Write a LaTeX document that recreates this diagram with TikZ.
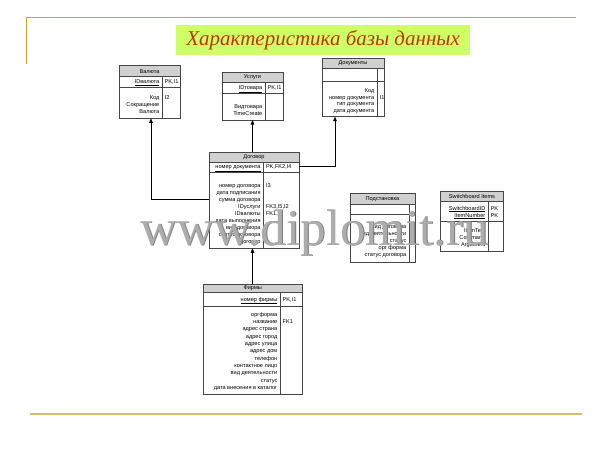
\documentclass[tikz,border=0pt]{standalone}
\usepackage{fontspec}
\setmainfont{Liberation Serif}
\setsansfont{Liberation Sans}
\usetikzlibrary{arrows.meta}
\definecolor{gold}{RGB}{212,165,42}
\definecolor{goldb}{RGB}{214,190,110}
\definecolor{lime}{RGB}{206,255,102}
\definecolor{titlered}{RGB}{190,55,10}
\definecolor{hdrgray}{RGB}{208,208,208}
\definecolor{bordergray}{RGB}{70,70,70}
\definecolor{wmgray}{RGB}{172,172,172}
\definecolor{wmdark}{RGB}{125,125,125}
\newcommand\tf{\sffamily\fontsize{5.6}{6}\selectfont}
\tikzset{
  tbox/.style={draw=bordergray, line width=0.6pt, fill=white, inner sep=0pt, outer sep=0pt, rectangle},
  thead/.style={draw=bordergray, line width=0.6pt, fill=hdrgray, inner sep=0pt, outer sep=0pt, rectangle, font=\tf},
  tline/.style={draw=bordergray, line width=0.6pt},
  rtxt/.style={anchor=base east, inner sep=0pt, font=\tf},
  ltxt/.style={anchor=base west, inner sep=0pt, font=\tf},
  conn/.style={draw=black, line width=0.6pt},
  arr/.style={conn, -{Triangle[length=4.5pt,width=3.6pt]}},
}
% name, x, y, w, h, header h, pk h, divider x, title
\newcommand\ertab[9]{%
  \node[tbox, minimum width=#4pt, minimum height=#5pt, anchor=north west] (#1) at (#2,#3) {};
  \node[thead, minimum width=#4pt, minimum height=#6pt, anchor=north west] (#1h) at (#2,#3) {#9};
  \draw[tline] (#2,#3+#6+#7) -- ++(#4,0);
  \draw[tline] (#8,#3+#6) -- (#8,#3+#5);
}
% name prefix, right x, first row centre y, spacing, list
\newcommand\rcol[5]{\foreach \txt [count=\i] in {#5}
  \node[rtxt] (#1\i) at (#2,{#3+(\i-1)*#4+2}) {\txt};}
\begin{document}
\begin{tikzpicture}[x=1pt,y=-1pt]
\useasboundingbox[fill=white] (0,0) rectangle (613,460);
% frame lines
\draw[gold, line width=1pt] (26,64) -- (26,17.5) -- (576,17.5);
\draw[goldb, line width=2pt] (30,414) -- (582,414);
% title
\node[fill=lime, minimum width=294pt, minimum height=30pt, anchor=north west, inner sep=0pt,
  text=titlered, font=\fontsize{21}{21}\selectfont\itshape] (title) at (176,25) {Характеристика базы данных};

% Валюта
\ertab{val}{119}{65.7}{61}{52.6}{11}{10.6}{162}{Валюта}
\node[rtxt] (valpk) at (159.5,84) {\underline{IDвалюта}};
\node[ltxt] (valpkk) at (164.5,84) {PK,I1};
\rcol{valr}{159.5}{97.7}{7}{Код,Сокращение,Валюта}
\node[ltxt] (valk) at (164.5,99.7) {I2};

% Услуги
\ertab{usl}{222}{72.3}{61}{47.7}{9.6}{11}{265}{Услуги}
\node[rtxt] (uslpk) at (262.5,89.4) {\underline{IDтовара}};
\node[ltxt] (uslpkk) at (267.5,89.4) {PK,I1};
\rcol{uslr}{262.5}{106.5}{7}{Видтовара,TimeCreate}

% Документы
\ertab{doc}{322}{58.3}{62}{58.4}{10}{13.4}{377}{Документы}
\rcol{docr}{374.5}{90.7}{6.5}{Код,номер документа,тип документа,дата документа}
\node[ltxt] (dock) at (379.5,99.2) {I1};

% Договор
\ertab{dog}{209}{152.3}{90}{96}{9.6}{10}{263.3}{Договор}
\node[rtxt] (dogpk) at (260.8,168.7) {\underline{номер документа}};
\node[ltxt] (dogpkk) at (265.8,168.7) {PK,FK2,I4};
\rcol{dogr}{260.8}{185}{7.1}{номер договора,дата подписания,сумма договора,IDуслуги,IDвалюты,дата выполнения,вид договора,статус договора,Договор}
\node[ltxt] (dogk1) at (265.8,187) {I3};
\node[ltxt] (dogk2) at (265.8,208.3) {FK3,I5,I2};
\node[ltxt] (dogk3) at (265.8,215.4) {FK1,I1};

% Подстановка
\ertab{pod}{350}{193}{65}{69}{11.5}{10}{409}{Подстановка}
\rcol{podr}{406.5}{226}{7}{вид договора,вид деятельности,статус,орг форма,статус договора}

% Switchboard Items
\ertab{swi}{440.5}{191}{63}{60.7}{10}{20.7}{488}{Switchboard Items}
\node[rtxt] (swipk1) at (485.5,210) {\underline{SwitchboardID}};
\node[rtxt] (swipk2) at (485.5,217) {\underline{ItemNumber}};
\node[ltxt] (swik1) at (490.5,210) {PK};
\node[ltxt] (swik2) at (490.5,217) {PK};
\rcol{swir}{485.5}{230.5}{7}{ItemText,Command,Argument}

% Фирмы
\ertab{fir}{203.5}{284}{98.5}{110}{8.7}{13.3}{280}{Фирмы}
\node[rtxt] (firpk) at (277.5,301) {\underline{номер фирмы}};
\node[ltxt] (firpkk) at (282.5,301) {PK,I1};
\rcol{firr}{277.5}{314.3}{7.3}{оргформа,название,адрес страна,адрес город,адрес улица,адрес дом,телефон,контактное лицо,вид деятельности,статус,дата внесения в каталог}
\node[ltxt] (firk) at (282.5,323.6) {FK1};

% connectors
\coordinate (c1) at (151,199);
\coordinate (c2) at (335,166.7);
\coordinate (c3) at (252.5,140);
\coordinate (c4) at (252.5,270);
\draw[arr] (dog.west |- c1) -- (c1) -- (c1 |- val.south);
\draw[arr] (dog.east |- c2) -- (c2) -- (c2 |- doc.south);
\draw[arr] (c3 |- dog.north) -- (c3 |- usl.south);
\draw[arr] (c4 |- fir.north) -- (c4 |- dog.south);

% watermark
\node[anchor=base, inner sep=0pt, text=wmdark, font=\fontsize{51}{51}\selectfont] (wmshadow) at (315.8,245.8) {www.diplomit.ru};
\node[anchor=base, inner sep=0pt, text=wmgray, font=\fontsize{51}{51}\selectfont] (wm) at (315,245) {www.diplomit.ru};
\end{tikzpicture}
\end{document}
